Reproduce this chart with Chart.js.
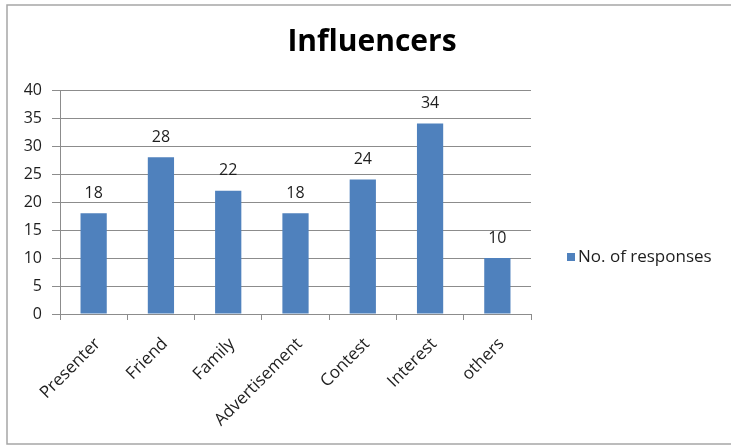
<!DOCTYPE html>
<html>
<head>
<meta charset="utf-8">
<script src="https://cdn.jsdelivr.net/npm/chart.js@4.4.1/dist/chart.umd.min.js"></script>
<style>
  html, body { margin: 0; padding: 0; background: #fff; }
  #wrap { width: 731px; height: 445px; position: relative; }
</style>
</head>
<body>
<div id="wrap"><canvas id="chart" width="731" height="445"></canvas></div>
<script>
const categories = ['Presenter', 'Friend', 'Family', 'Advertisement', 'Contest', 'Interest', 'others'];
const responses = [18, 28, 22, 18, 24, 34, 10];
const seriesName = 'No. of responses';
const chartTitle = 'Influencers';

const FONT = '"Open Sans", sans-serif';
const BAR_COLOR = '#4F81BD';
const LINE_COLOR = '#8c8c8c';
const TEXT_COLOR = '#1e1e1e';

// thin gray frame around the whole chart
const frame = {
    id: 'frame',
    beforeDraw(chart) {
        const ctx = chart.ctx;
        ctx.save();
        ctx.strokeStyle = '#a6a6a6';
        ctx.lineWidth = 1.5;
        ctx.strokeRect(7, 5, chart.width, chart.height - 6);
        ctx.restore();
    },
};

// value above each bar
const valueLabels = {
    id: 'valueLabels',
    afterDatasetsDraw(chart) {
        const ctx = chart.ctx;
        ctx.save();
        ctx.font = '16px ' + FONT;
        ctx.fillStyle = TEXT_COLOR;
        ctx.textAlign = 'center';
        ctx.textBaseline = 'middle';
        chart.data.datasets.forEach((ds, i) => {
            chart.getDatasetMeta(i).data.forEach((bar, j) => {
                ctx.fillText(String(ds.data[j]), bar.x, bar.y - 20);
            });
        });
        ctx.restore();
    },
};

// legend to the right of the plot
const sideLegend = {
    id: 'sideLegend',
    afterDraw(chart) {
        const ctx = chart.ctx;
        const ds = chart.data.datasets[0];
        const x = chart.chartArea.right + 36;
        const y = 257;
        ctx.save();
        ctx.fillStyle = ds.backgroundColor;
        ctx.fillRect(x, y - 4, 8, 8);
        ctx.font = '17px ' + FONT;
        ctx.fillStyle = TEXT_COLOR;
        ctx.textAlign = 'left';
        ctx.textBaseline = 'middle';
        ctx.fillText(ds.label, x + 11, y);
        ctx.restore();
    },
};

new Chart(document.getElementById('chart'), {
    type: 'bar',
    data: {
        labels: categories,
        datasets: [{
            label: seriesName,
            data: responses,
            backgroundColor: BAR_COLOR,
            barPercentage: 0.39,
            categoryPercentage: 1,
        }],
    },
    options: {
        responsive: false,
        animation: false,
        layout: {
            padding: { left: 13, right: 0, top: 0, bottom: 0 },
        },
        scales: {
            x: {
                grid: {
                    display: true,
                    drawOnChartArea: false,
                    offset: true,
                    color: LINE_COLOR,
                    tickLength: 6,
                },
                border: { color: LINE_COLOR },
                ticks: {
                    minRotation: 45,
                    maxRotation: 45,
                    padding: 14,
                    labelOffset: 4,
                    color: TEXT_COLOR,
                    font: { family: FONT, size: 17 },
                },
                afterFit(scale) {
                    scale.height = 131;
                },
            },
            y: {
                min: 0,
                max: 40,
                ticks: {
                    stepSize: 5,
                    padding: 10,
                    color: TEXT_COLOR,
                    font: { family: FONT, size: 16 },
                },
                grid: {
                    color: LINE_COLOR,
                    tickLength: 8,
                },
                border: { color: LINE_COLOR },
                afterFit(scale) {
                    scale.width = 47;
                },
            },
            // empty axis that keeps room for the legend on the right
            side: {
                position: 'right',
                display: true,
                grid: { display: false },
                border: { display: false },
                ticks: { display: false },
                afterFit(scale) {
                    scale.width = 200;
                },
            },
        },
        plugins: {
            legend: { display: false },
            tooltip: { enabled: false },
            title: {
                display: true,
                text: chartTitle,
                color: '#000',
                font: { family: FONT, size: 30, weight: 'bold', lineHeight: 1.2 },
                padding: { top: 24, bottom: 30 },
            },
        },
    },
    plugins: [frame, valueLabels, sideLegend],
});
</script>
</body>
</html>
